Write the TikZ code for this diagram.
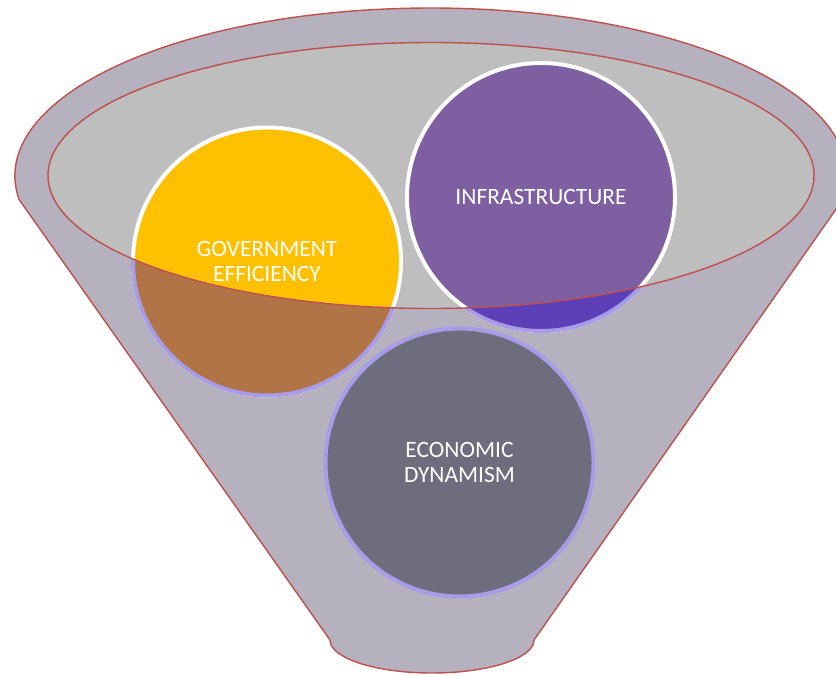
\documentclass[tikz,border=0pt]{standalone}
\usepackage{fontspec}
\setmainfont{Carlito}
\usetikzlibrary{positioning}
\definecolor{rim}{HTML}{C0504D}
\definecolor{body}{HTML}{B5B1BF}
\definecolor{mouth}{HTML}{BFBEBE}
\definecolor{gold}{HTML}{FFC000}
\definecolor{goldlow}{HTML}{B07446}
\definecolor{violet}{HTML}{7E5FA2}
\definecolor{violetlow}{HTML}{5D3FB8}
\definecolor{slate}{HTML}{6D6D7D}
\definecolor{halo}{HTML}{A89CE8}

\begin{document}
\begin{tikzpicture}[x=.3mm,y=.3mm,
  ball/.style={circle,minimum size=80.4mm,inner sep=0pt,line width=3.4pt},
  lbl/.style={text=white,align=center,font=\fontsize{20}{21.5}\selectfont}]
\useasboundingbox (0,0) rectangle (836,675);
% funnel body and mouth
\filldraw[fill=body,draw=rim,line width=1.2pt] (19,475.6) arc[start angle=188,end angle=-8,x radius=416,y radius=168]
  -- (534,35) arc[start angle=0,end angle=-180,x radius=102,y radius=33] -- cycle;
\fill[mouth] (431,499.5) ellipse[x radius=383,y radius=133];
% the three balls
\node[ball,fill=gold,draw=white] (gov) at (267,413.5) {};
\node[ball,fill=violet,draw=white] (infra) at (541,478) {};
\node[ball,fill=slate,draw=halo] (econ) at (459.5,212.5) {};
% parts below the rim of the mouth
\begin{scope}[even odd rule]
\clip (0,0) rectangle (836,675) (431,499.5) ellipse[x radius=383,y radius=133];
\filldraw[fill=goldlow,draw=halo,line width=3.4pt] (gov.center) circle[radius=134];
\filldraw[fill=violetlow,draw=halo,line width=3.4pt] (infra.center) circle[radius=134];
\end{scope}
\node[lbl] (govtxt) at (gov) {GOVERNMENT\\EFFICIENCY};
\node[lbl] (infratxt) at (infra) {INFRASTRUCTURE};
\node[lbl] (econtxt) at (econ) {ECONOMIC\\DYNAMISM};
\draw[rim,line width=1.2pt] (431,499.5) ellipse[x radius=383,y radius=133];
\end{tikzpicture}
\end{document}
